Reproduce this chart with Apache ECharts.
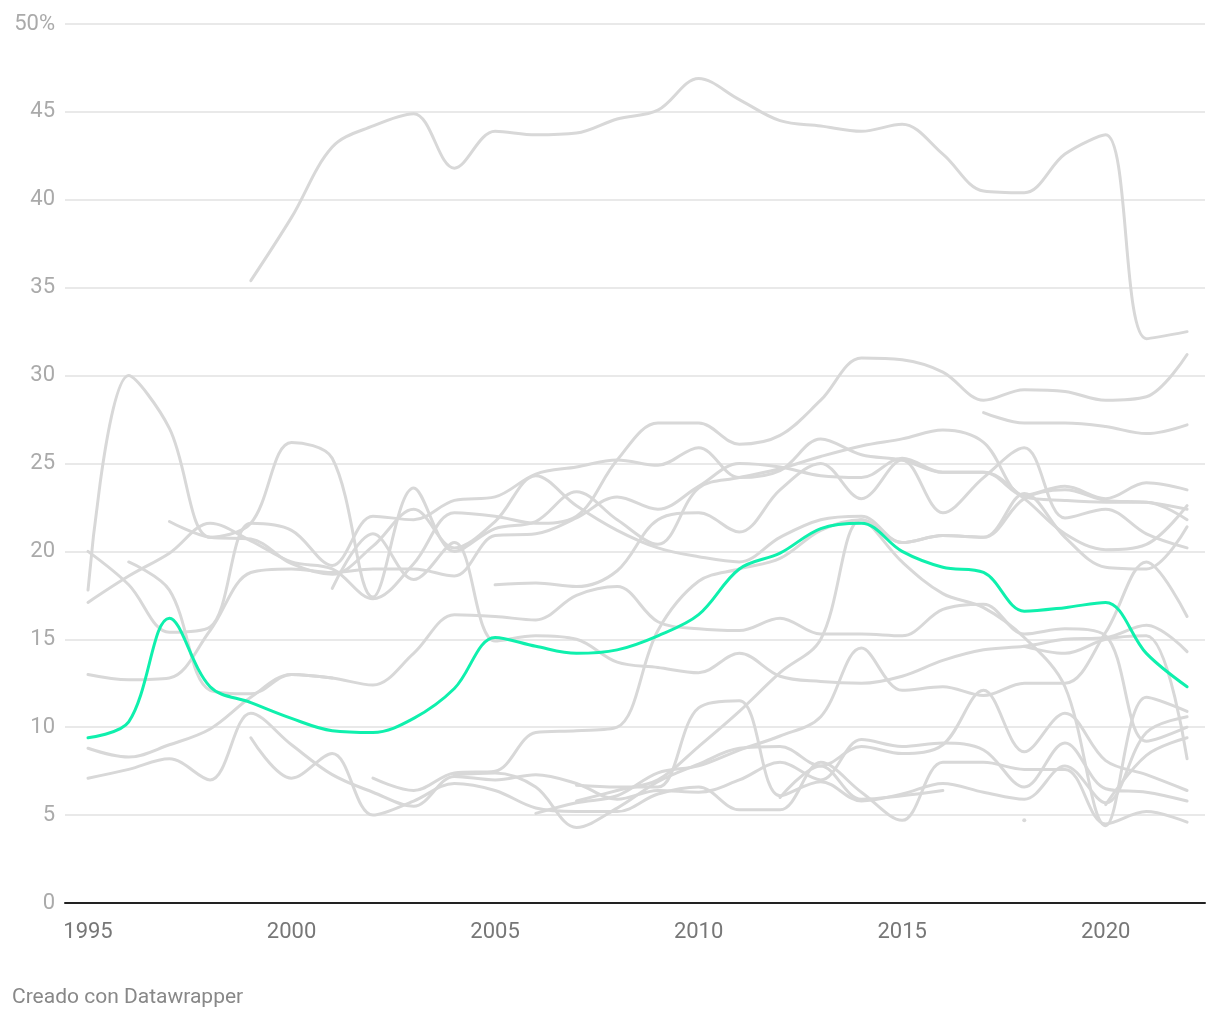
<!DOCTYPE html>
<html><head><meta charset="utf-8">
<script src="https://cdn.jsdelivr.net/npm/echarts@6/dist/echarts.min.js"></script>
<style>html,body{margin:0;padding:0;background:#fff;}#c{width:1220px;height:1020px;}</style>
</head><body><div id="c"></div>
<script>
const _ = null;
const years = [1995,1996,1997,1998,1999,2000,2001,2002,2003,2004,2005,2006,2007,2008,2009,2010,2011,2012,2013,2014,2015,2016,2017,2018,2019,2020,2021,2022];
const xTickLabels = [1995,2000,2005,2010,2015,2020];

// highlighted series
const highlight = [9.4,10.3,16.2,12.3,11.4,10.5,9.8,9.7,10.5,12.2,15.1,14.6,14.2,14.4,15.2,16.4,19.0,19.9,21.3,21.6,20.0,19.1,18.8,16.6,16.8,17.1,14.2,12.3];

// grey series
const g1  = [_,_,_,_,35.4,39.0,43.0,44.2,44.9,41.8,43.9,43.7,43.8,44.6,45.1,46.9,45.7,44.5,44.2,43.9,44.3,42.6,40.5,40.4,42.6,43.7,32.1,32.5];
const g2  = [17.8,30.0,27.0,20.8,21.6,26.2,25.3,17.4,23.6,20.0,21.3,21.7,23.4,21.8,20.4,23.6,24.2,24.7,25.4,26.0,26.4,26.9,26.2,23.2,23.7,23.0,23.9,23.5];
const g3  = [17.1,18.6,19.9,21.6,20.6,19.4,19.0,17.3,19.3,22.2,22.0,21.6,22.0,25.2,27.3,27.3,26.1,26.6,28.6,31.0,30.9,30.2,28.6,29.2,29.1,28.6,28.8,31.2];
const g4  = [_,_,_,_,_,_,_,_,_,_,_,_,_,_,_,_,_,_,_,_,_,_,27.9,27.3,27.3,27.1,26.7,27.2];
const g5  = [20.0,18.1,15.4,15.7,21.6,21.2,19.2,22.0,21.8,22.9,23.1,24.4,24.8,25.2,24.9,25.9,24.2,24.6,26.4,25.5,25.2,24.5,24.5,23.1,22.9,22.8,22.8,21.8];
const g6  = [_,_,21.7,20.8,20.7,19.3,18.7,20.3,22.4,20.2,21.7,24.3,22.6,21.2,20.2,19.7,19.4,20.8,21.8,22.0,20.5,20.9,20.8,23.3,20.8,19.1,19.0,21.4];
const g7  = [13.0,12.7,12.8,15.5,18.8,19.0,18.8,19.0,19.0,18.6,20.9,21.0,21.9,23.1,22.4,23.7,25.0,24.8,24.3,24.2,25.3,24.5,24.5,23.0,21.0,20.1,20.4,22.6];
const g8  = [_,_,_,_,_,_,_,7.1,6.4,7.4,7.5,9.7,9.8,10.0,15.5,18.3,19.0,19.6,21.2,21.8,20.5,20.9,20.8,23.0,23.5,22.9,22.8,22.4];
const g9  = [_,_,_,_,_,_,17.9,21.0,18.4,20.5,14.9,15.2,15.0,13.7,13.4,13.1,14.2,12.9,12.6,12.5,12.9,13.8,14.4,14.6,15.0,15.1,15.8,14.3];
const g10 = [8.8,8.3,9.0,9.9,11.7,13.0,12.8,12.4,14.2,16.4,16.3,16.1,17.5,18.0,16.0,15.6,15.5,16.2,15.3,15.3,15.2,16.7,17.0,15.3,15.6,15.2,9.2,10.0];
const g11 = [_,19.4,17.8,12.1,11.9,13.0,12.8,_,_,_,_,_,_,_,_,_,_,_,_,_,_,_,_,_,_,_,_,_];
const g12 = [_,_,_,_,_,_,_,_,_,_,18.1,18.2,18.0,18.9,21.8,22.2,21.1,23.5,25.0,23.0,25.2,22.2,24.2,25.9,21.9,22.4,21.0,20.2];
const g13 = [_,_,_,_,_,_,_,_,_,_,_,5.1,5.7,6.1,7.4,7.8,8.7,9.5,10.6,14.5,12.1,12.3,11.8,12.5,12.5,15.4,19.4,16.3];
const g14 = [_,_,_,_,_,_,_,_,_,_,_,_,5.8,6.4,7.0,8.9,10.9,13.1,15.0,21.8,19.4,17.6,16.8,15.1,12.3,4.4,11.7,10.9];
const g15 = [7.1,7.6,8.2,7.0,10.8,9.0,7.3,6.3,5.5,7.2,7.0,7.3,6.8,5.9,6.4,6.3,7.0,8.0,7.0,9.3,8.9,9.1,8.7,6.6,9.1,6.5,6.3,5.8];
const g16 = [_,_,_,_,9.4,7.1,8.5,5.0,5.8,6.8,6.4,5.4,5.2,5.2,6.2,6.6,5.3,5.3,8.0,6.3,4.7,8.0,8.0,7.6,7.6,4.5,5.2,4.6];
const g17 = [_,_,_,_,_,_,_,_,_,7.3,7.4,6.6,4.3,5.4,6.9,7.9,8.8,8.9,7.8,8.9,8.5,9.0,12.1,8.6,10.8,8.1,7.3,6.4];
const g18 = [_,_,_,_,_,_,_,_,_,_,_,_,6.7,6.6,6.6,11.1,11.5,6.1,6.9,5.8,6.2,6.8,6.3,5.9,7.8,5.7,9.7,10.6];
const g19 = [_,_,_,_,_,_,_,_,_,_,_,_,_,_,_,_,_,6.0,7.8,5.9,6.1,6.4,_,_,_,_,_,_];
const g20 = [_,_,_,_,_,_,_,_,_,_,_,_,_,_,_,_,_,_,_,_,_,_,_,_,_,5.6,8.4,9.4];
const g21 = [_,_,_,_,_,_,_,_,_,_,_,_,_,_,_,_,_,_,_,_,_,_,_,14.6,14.2,15.0,15.2,8.2];
const dotYear = 2018, dotValue = 4.7;

const greyLines = [g1,g2,g3,g4,g5,g6,g7,g8,g9,g10,g11,g12,g13,g14,g15,g16,g17,g18,g19,g20,g21];

function toData(arr){ const d=[]; arr.forEach((v,i)=>{ if(v!==null) d.push([years[i], v]); }); return d; }

const series = greyLines.map(a => ({
  type:'line', data: toData(a), smooth:0.35, showSymbol:false, silent:true,
  lineStyle:{color:'#d8d8d8', width:3, cap:'round', join:'round'}, z:2
}));
series.push({type:'scatter', data:[[dotYear,dotValue]], symbolSize:4, silent:true, itemStyle:{color:'#cfcfcf'}, z:2});
series.push({
  type:'line', data: toData(highlight), smooth:0.35, showSymbol:false, silent:true,
  lineStyle:{color:'#0ff0ad', width:3, cap:'round', join:'round'}, z:5
});

const chart = echarts.init(document.getElementById('c'));
chart.setOption({
  animation:false,
  backgroundColor:'#fff',
  grid:{left:65, right:15, top:24, bottom:117},
  xAxis:{type:'value', min:1994.435, max:2022.44,
    axisLine:{show:true, onZero:false, lineStyle:{color:'#222', width:2}},
    axisTick:{show:false}, splitLine:{show:false},
    axisLabel:{customValues:xTickLabels, formatter: v => String(v), color:'#777', fontSize:22, margin:18, fontFamily:'Roboto'}},
  yAxis:{type:'value', min:0, max:50, interval:5,
    axisLine:{show:false}, axisTick:{show:false},
    splitLine:{lineStyle:{color:'#e2e2e2', width:1.5}},
    axisLabel:{color:'#aaa', fontSize:22, margin:10, fontFamily:'Roboto', formatter: v => v===50 ? '50%' : String(v)}},
  graphic:[{type:'text', left:12, top:987, style:{text:'Creado con Datawrapper', fill:'#888', fontSize:21, fontFamily:'Roboto'}}],
  series
});
</script></body></html>
